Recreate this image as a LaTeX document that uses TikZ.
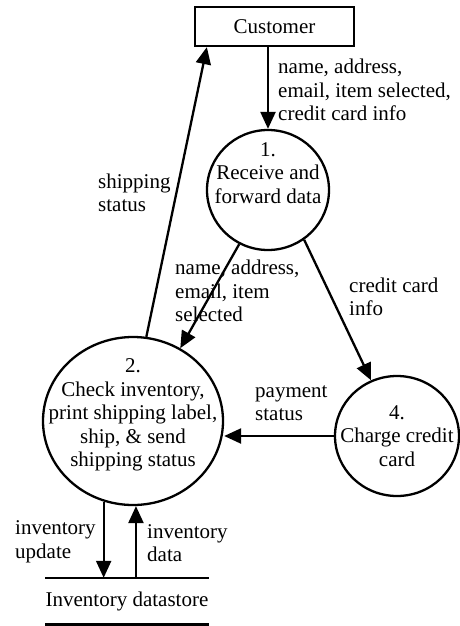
\documentclass[tikz,border=0pt]{standalone}
\usepackage{fontspec}
\setmainfont{Liberation Serif}
\usetikzlibrary{arrows.meta,shapes.geometric}
\begin{document}
\begin{tikzpicture}[x=1pt,y=-1pt,
  every node/.style={font=\fontsize{21}{23.5}\selectfont, inner sep=0pt},
  proc/.style={draw, ellipse, line width=2.3pt},
  lbl/.style={anchor=west, align=left},
  flow/.style={line width=2.3pt, -{Triangle[length=17pt,width=15pt]}},
]
\useasboundingbox (0,0) rectangle (460,626);
% entities and processes
\node[draw, line width=2.3pt, minimum width=159pt, minimum height=39pt] (cust) at (274.5,26.5) {Customer};
\node[proc, minimum width=122pt, minimum height=120pt] (p1) at (268,190) {};
\node[align=center] (p1t) at (268,173) {1.\\Receive and\\forward data};
\node[proc, minimum width=180pt, minimum height=168pt] (p2) at (133,421) {};
\node[align=center] (p2t) at (133,415) {2.\\Check inventory,\\print shipping label,\\ship, \& send\\shipping status};
\node[proc, minimum width=124pt, minimum height=120pt] (p4) at (397,436) {};
\node[align=center] (p4t) at (397,436) {4.\\Charge credit\\card};
% datastore
\node[minimum width=160pt, minimum height=46pt] (ds) at (127,601) {Inventory datastore};
\draw[line width=2.6pt] (ds.north west) -- (ds.north east);
\draw[line width=2.6pt] (ds.south west) -- (ds.south east);
% flows
\draw[flow] (cust.south -| p1) -- (p1);
\draw[flow] (p2.81) -- ([xshift=13pt]cust.south west);
\draw[flow] (p1.242) -- (p2.57);
\draw[flow] (p1.306) -- (p4.115);
\draw[flow] (p4.west) -- (p4.west -| p2.east);
\draw[flow] (p2.250) -- (p2.250 |- ds.north);
\draw[flow] (ds.north -| p2.272) -- (p2.272);
% labels
\node[lbl] (l1) at (278,90) {name, address,\\email, item selected,\\credit card info};
\node[lbl] (l2) at (98,193) {shipping\\status};
\node[lbl] (l3) at (175,291) {name, address,\\email, item\\selected};
\node[lbl] (l4) at (349,297) {credit card\\info};
\node[lbl] (l5) at (255,403) {payment\\status};
\node[lbl] (l6) at (15,542) {inventory\\update};
\node[lbl] (l7) at (147,543) {inventory\\data};
\end{tikzpicture}
\end{document}
